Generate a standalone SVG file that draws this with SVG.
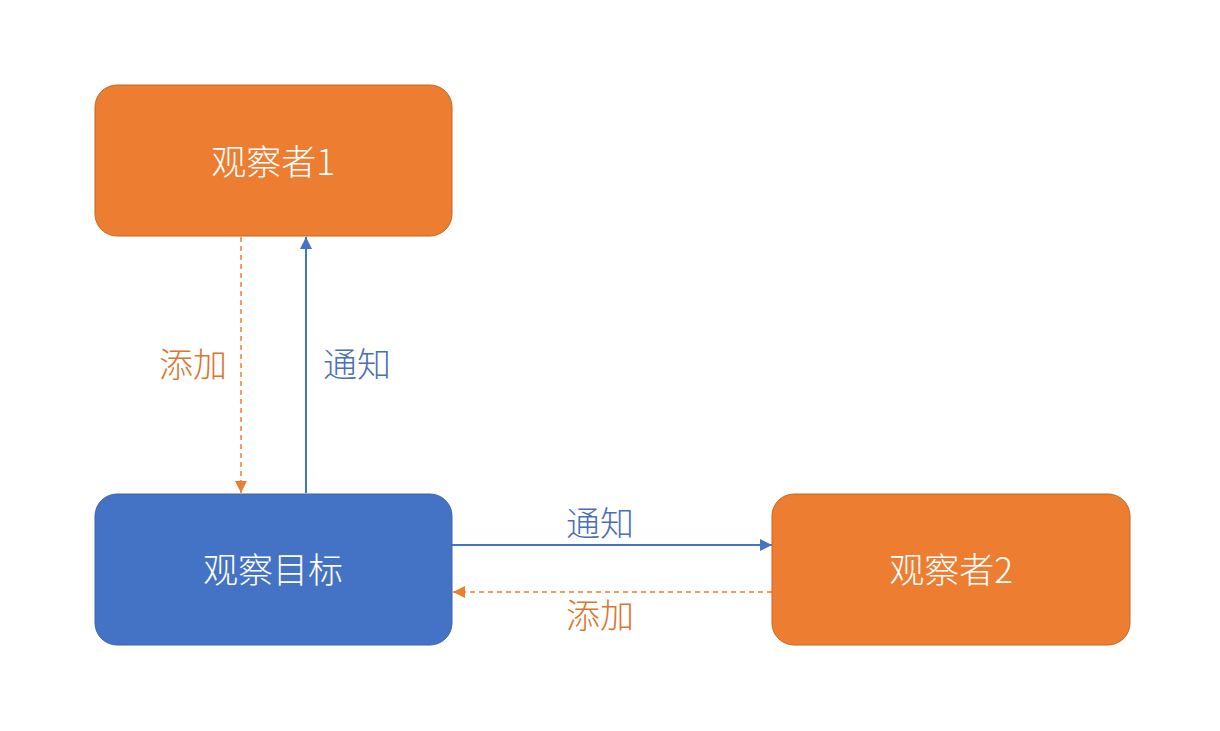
<svg xmlns="http://www.w3.org/2000/svg" width="1220" height="731" viewBox="0 0 1220 731">
<defs>
<style>
.o{fill:#ED7D31;stroke:#C8651F;stroke-width:1}
.b{fill:#4472C4;stroke:#3A64AE;stroke-width:1}
.t{font-family:"Noto Sans CJK SC","Noto Sans",sans-serif;font-size:35px;fill:#FFFFFF;text-anchor:middle;dominant-baseline:central;font-weight:300}
.lo{font-family:"Noto Sans CJK SC","Noto Sans",sans-serif;font-size:34px;fill:#D9772F;text-anchor:middle;dominant-baseline:central;font-weight:300}
.lb{font-family:"Noto Sans CJK SC","Noto Sans",sans-serif;font-size:34px;fill:#4A6FB5;text-anchor:middle;dominant-baseline:central;font-weight:300}
.cb{stroke:#4472C4;stroke-width:2;fill:none}
.co{stroke:#ED7D31;stroke-width:1.5;fill:none;stroke-dasharray:5 4}
</style>
<marker id="ab2" viewBox="0 0 10 10" refX="10" refY="5" markerWidth="12" markerHeight="12" markerUnits="userSpaceOnUse" orient="auto"><path d="M0,0 L10,5 L0,10 z" fill="#4472C4"/></marker>
<marker id="ao2" viewBox="0 0 10 10" refX="10" refY="5" markerWidth="12" markerHeight="12" markerUnits="userSpaceOnUse" orient="auto"><path d="M0,0 L10,5 L0,10 z" fill="#ED7D31"/></marker>
</defs>
<rect width="1220" height="731" fill="#FFFFFF"/>
<g id="connectors">
<line class="co" x1="241" y1="237" x2="241" y2="493" marker-end="url(#ao2)"/>
<line class="cb" x1="306" y1="493" x2="306" y2="237" marker-end="url(#ab2)"/>
<line class="cb" x1="452" y1="545" x2="772" y2="545" stroke-width="1.5" marker-end="url(#ab2)"/>
<line class="co" x1="772" y1="592" x2="453" y2="592" marker-end="url(#ao2)"/>
<text class="lo" x="193" y="362">添加</text>
<text class="lb" x="357" y="362">通知</text>
<text class="lb" x="600" y="521">通知</text>
<text class="lo" x="600" y="613">添加</text>
</g>
<g id="observer1">
<rect class="o" x="95" y="85" width="357" height="151" rx="22"/>
<text class="t" x="273" y="159">观察者1</text>
</g>
<g id="subject">
<rect class="b" x="95" y="494" width="357" height="151" rx="22"/>
<text class="t" x="273" y="567">观察目标</text>
</g>
<g id="observer2">
<rect class="o" x="772" y="494" width="358" height="151" rx="22"/>
<text class="t" x="951" y="567">观察者2</text>
</g>
</svg>
